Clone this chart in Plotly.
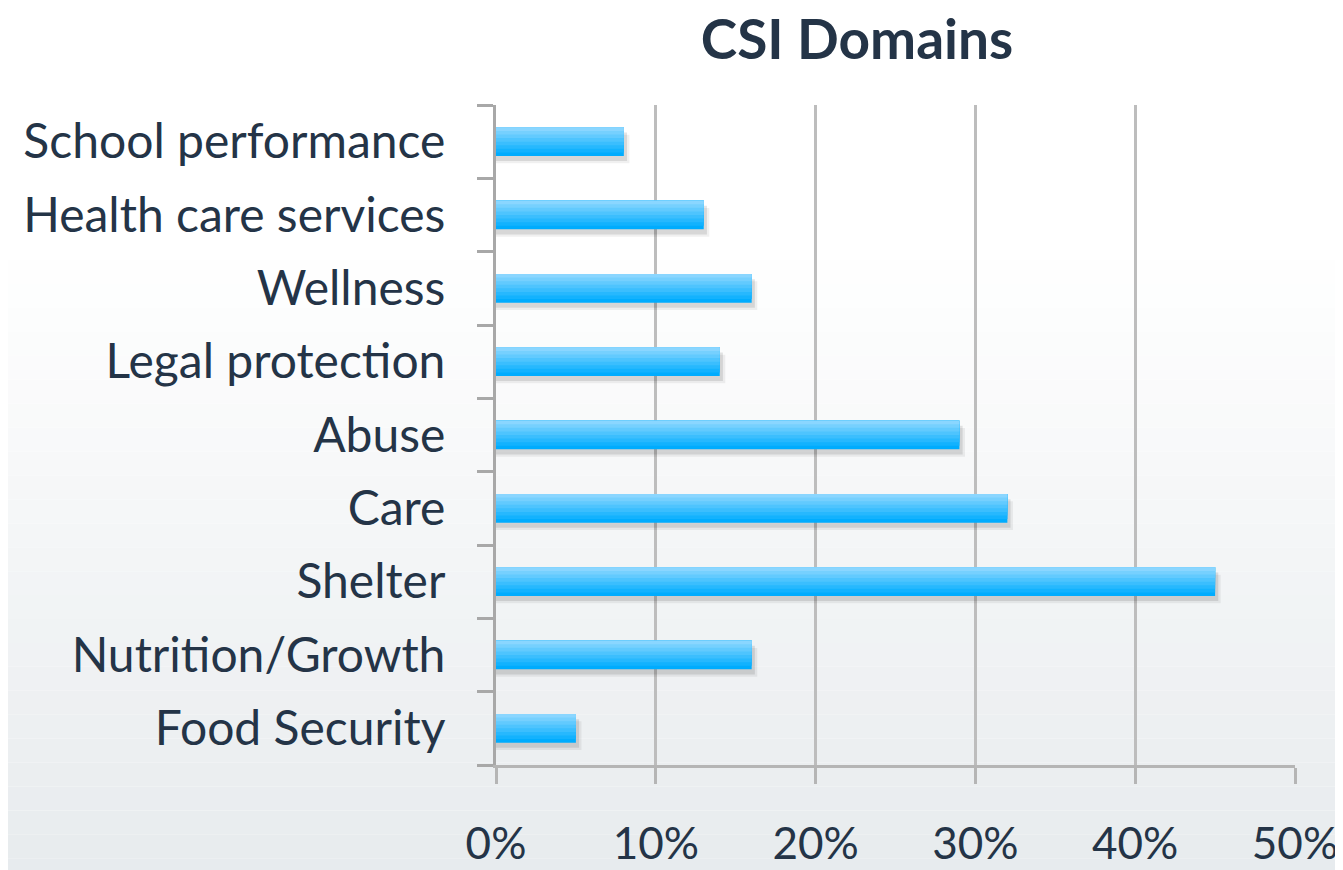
import plotly.graph_objects as go

categories = ["Food Security", "Nutrition/Growth", "Shelter", "Care", "Abuse",
              "Legal protection", "Wellness", "Health care services", "School performance"]
values = [5, 16, 45, 32, 29, 14, 16, 13, 8]
x_ticks = [0, 10, 20, 30, 40, 50]
x_tick_labels = ["0%", "10%", "20%", "30%", "40%", "50%"]

FONT = "Lato, Open Sans, sans-serif"
TEXT = "#243447"

fig = go.Figure()

# soft shadow under the bars
for dx, dy, alpha in [(0.35, 0.10, 0.06), (0.2, 0.07, 0.10)]:
    fig.add_trace(go.Bar(
        y=categories, x=[v + dx for v in values], orientation="h",
        marker=dict(color="rgba(0,0,0,%.2f)" % alpha, line=dict(width=0)),
        width=0.39, offset=-0.195 - dy, hoverinfo="skip",
    ))

# vertical gradient within each bar: stacked overlays, each covering from its start to the top
top_col = (138, 214, 255)
bot_col = (0, 172, 254)
nb = 8
full = 0.39
bw = full / nb
for i in range(nb):
    t = i / (nb - 1)
    col = tuple(int(bot_col[k] + (top_col[k] - bot_col[k]) * t) for k in range(3))
    fig.add_trace(go.Bar(
        y=categories, x=values, orientation="h",
        marker=dict(color="rgb(%d,%d,%d)" % col, line=dict(width=0)),
        width=full - i * bw, offset=-full / 2 + i * bw,
        hoverinfo="x+y" if i == 0 else "skip",
    ))

# background gradient (white -> light gray) via thin paper-ref rectangles
n = 40
shapes = []
for i in range(n):
    t = i / (n - 1)
    c0 = (255, 255, 255)
    c1 = (230, 234, 237)
    f = max(0.0, (t - 0.3) / 0.7)
    col = tuple(int(c0[k] + (c1[k] - c0[k]) * f) for k in range(3))
    shapes.append(dict(type="rect", xref="paper", yref="paper",
                       x0=-1, x1=2,
                       y0=1.2 - (i + 1) * (1.45 / n), y1=1.2 - i * (1.45 / n),
                       fillcolor="rgb(%d,%d,%d)" % col, line=dict(width=0), layer="below"))

fig.update_layout(
    width=1335, height=862,
    margin=dict(l=488, r=48, t=97, b=105),
    paper_bgcolor="white", plot_bgcolor="rgba(0,0,0,0)",
    shapes=shapes,
    showlegend=False,
    barmode="overlay",
    title=dict(text="<b>CSI Domains</b>", x=849 / 1335, xanchor="center",
               y=1 - 32 / 862, yanchor="middle",
               font=dict(family=FONT, size=55, color=TEXT)),
    font=dict(family=FONT, color=TEXT),
)
fig.update_xaxes(
    range=[0, 50], tickvals=x_ticks, ticktext=x_tick_labels,
    showgrid=True, gridcolor="#bdbdbd", gridwidth=3,
    showline=True, linecolor="#b5b5b5", linewidth=3,
    ticks="outside", ticklen=16, tickwidth=3, tickcolor="#b5b5b5",
    ticklabelstandoff=22, automargin=False,
    tickfont=dict(size=44, color=TEXT),
    zeroline=False,
)
fig.update_yaxes(
    categoryorder="array", categoryarray=categories,
    showline=True, linecolor="#a8a8a8", linewidth=3,
    ticks="outside", ticklen=16, tickwidth=3, tickcolor="#a8a8a8",
    tickson="boundaries", ticklabelstandoff=38, automargin=False,
    tickfont=dict(size=48, color=TEXT),
    showgrid=False,
)
fig.write_html("out.html")
